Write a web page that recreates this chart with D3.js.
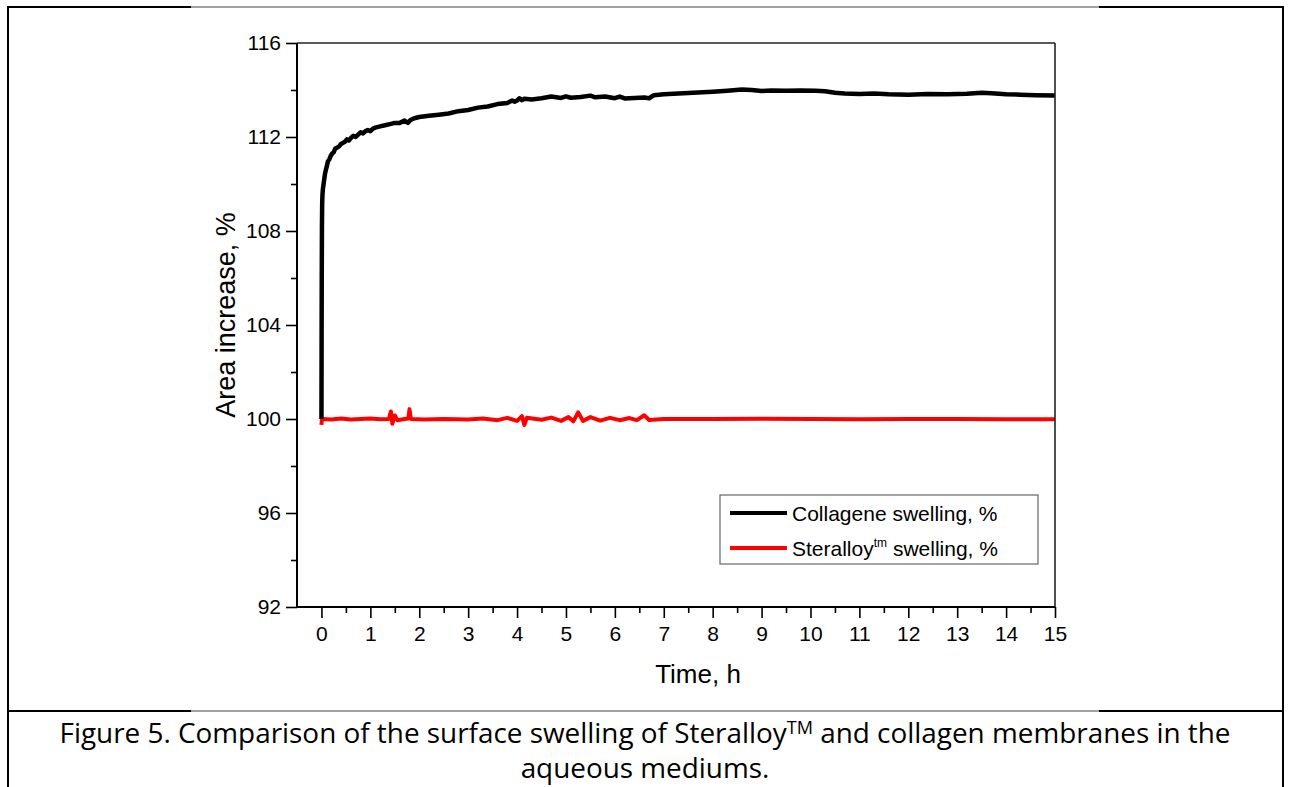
<!DOCTYPE html>
<html>
<head>
<meta charset="utf-8">
<script src="https://cdn.jsdelivr.net/npm/d3@7"></script>
<style>
  body { margin: 0; background: #fff; }
  svg text { font-family: "Liberation Sans", Arial, sans-serif; fill: #000; }
  .caption { font-family: "Open Sans", Lato, sans-serif; }
</style>
</head>
<body>
<div id="chart"></div>
<script>
// Collagene swelling, %
var colTime = [0, 0.003, 0.006, 0.01, 0.015, 0.02, 0.03, 0.05, 0.07, 0.09, 0.11, 0.13, 0.16, 0.19, 0.22, 0.25, 0.28,
  0.32, 0.36, 0.4, 0.44, 0.48, 0.52, 0.56, 0.6, 0.65, 0.7, 0.75, 0.8, 0.85, 0.9, 0.95, 1.0, 1.05, 1.1, 1.2, 1.3,
  1.4, 1.5, 1.6, 1.7, 1.77, 1.82, 1.9, 2.0, 2.2, 2.4, 2.6, 2.8, 3.0, 3.2, 3.4, 3.6, 3.8, 3.9, 3.95, 4.0, 4.05,
  4.1, 4.15, 4.3, 4.5, 4.7, 4.9, 5.0, 5.1, 5.3, 5.5, 5.6, 5.8, 6.0, 6.1, 6.2, 6.4, 6.6, 6.7, 6.8, 7.0, 7.3, 7.6,
  8.0, 8.3, 8.6, 8.8, 9.0, 9.2, 9.5, 9.8, 10.1, 10.3, 10.5, 10.7, 11.0, 11.3, 11.6, 12.0, 12.4, 12.8, 13.2, 13.5,
  13.7, 14.0, 14.3, 14.6, 15.0];
var colArea = [100, 103, 106, 108.2, 109.2, 109.5, 109.8, 110.1, 110.4, 110.6, 110.75, 110.95, 111.05, 111.2, 111.3,
  111.35, 111.5, 111.55, 111.6, 111.7, 111.75, 111.8, 111.9, 111.85, 111.95, 112.05, 112.0, 112.1, 112.2, 112.15,
  112.25, 112.3, 112.25, 112.35, 112.4, 112.45, 112.5, 112.55, 112.6, 112.6, 112.7, 112.6, 112.72, 112.8, 112.85,
  112.9, 112.95, 113.0, 113.1, 113.15, 113.25, 113.3, 113.4, 113.45, 113.55, 113.5, 113.55, 113.65, 113.57, 113.63,
  113.6, 113.65, 113.72, 113.66, 113.73, 113.67, 113.7, 113.76, 113.69, 113.72, 113.65, 113.72, 113.64, 113.66,
  113.68, 113.65, 113.78, 113.82, 113.85, 113.88, 113.93, 113.97, 114.02, 114.0, 113.96, 113.98, 113.97, 113.98,
  113.97, 113.95, 113.88, 113.85, 113.83, 113.85, 113.82, 113.8, 113.83, 113.82, 113.84, 113.88, 113.86, 113.82,
  113.8, 113.78, 113.77];

// Steralloy swelling, %
var stTime = [0, 0.01, 0.2, 0.4, 0.6, 0.8, 1.0, 1.2, 1.38, 1.42, 1.45, 1.5, 1.55, 1.7, 1.78, 1.8, 1.83, 2.1, 2.5,
  3.0, 3.3, 3.6, 3.8, 4.0, 4.1, 4.15, 4.2, 4.5, 4.7, 4.9, 5.05, 5.15, 5.25, 5.35, 5.5, 5.7, 5.9, 6.1, 6.3, 6.45,
  6.6, 6.7, 7.0, 8.0, 9.0, 10.0, 11.0, 12.0, 13.0, 14.0, 15.0];
var stArea = [99.75, 100.0, 99.98, 100.02, 99.98, 100.0, 100.02, 99.99, 100.0, 100.32, 99.8, 100.15, 99.95, 100.0,
  100.02, 100.42, 100.0, 99.98, 100.0, 99.98, 100.02, 99.95, 100.05, 99.92, 100.12, 99.75, 100.05, 99.97, 100.06,
  99.92, 100.08, 99.9, 100.28, 99.92, 100.08, 99.93, 100.05, 99.95, 100.04, 99.95, 100.16, 99.96, 100.0, 100.0,
  100.01, 100.0, 99.99, 100.0, 100.0, 99.99, 99.99];

var xTicks = d3.range(0, 16, 1);
var xMinor = d3.range(0.5, 15, 1);
var yTicks = [92, 96, 100, 104, 108, 112, 116];
var yMinor = [94, 98, 102, 106, 110, 114];

var svgWidth = 1290, svgHeight = 787;
var margin = { top: 43, right: 235, bottom: 180, left: 297 };
var width = 1055 - margin.left;
var height = 607 - margin.top;

var svg = d3.select("#chart").append("svg")
  .attr("width", svgWidth)
  .attr("height", svgHeight);

// page frame (table cell borders)
var frame = svg.append("g");
frame.append("line").attr("x1", 8).attr("x2", 8).attr("y1", 6).attr("y2", 787)
  .attr("stroke", "#000").attr("stroke-width", 2);
frame.append("line").attr("x1", 1283).attr("x2", 1283).attr("y1", 6).attr("y2", 787)
  .attr("stroke", "#000").attr("stroke-width", 2);
[7, 711].forEach(function(yy) {
  frame.append("line").attr("x1", 7).attr("x2", 191).attr("y1", yy).attr("y2", yy)
    .attr("stroke", "#000").attr("stroke-width", 2);
  frame.append("line").attr("x1", 191).attr("x2", 1099).attr("y1", yy).attr("y2", yy)
    .attr("stroke", "#444").attr("stroke-width", 1);
  frame.append("line").attr("x1", 1099).attr("x2", 1284).attr("y1", yy).attr("y2", yy)
    .attr("stroke", "#000").attr("stroke-width", 2);
});

var chartGroup = svg.append("g")
  .attr("transform", `translate(${margin.left}, ${margin.top})`);

var xLinearScale = d3.scaleLinear().domain([-0.5, 15]).range([0, width]);
var yLinearScale = d3.scaleLinear().domain([92, 116]).range([height, 0]);

// x axis
chartGroup.append("g")
  .attr("transform", `translate(0, ${height})`)
  .call(d3.axisBottom(xLinearScale).tickValues(xTicks).tickSize(11).tickPadding(8).tickFormat(d3.format("d")));
chartGroup.append("g")
  .attr("transform", `translate(0, ${height})`)
  .call(d3.axisBottom(xLinearScale).tickValues(xMinor).tickSize(6).tickFormat(""));

// y axis
chartGroup.append("g")
  .call(d3.axisLeft(yLinearScale).tickValues(yTicks).tickSize(11).tickPadding(5).tickFormat(d3.format("d")));
chartGroup.append("g")
  .call(d3.axisLeft(yLinearScale).tickValues(yMinor).tickSize(6).tickFormat(""));

chartGroup.selectAll(".domain").remove();
chartGroup.selectAll(".tick line").attr("stroke", "#000").attr("stroke-width", 1.6);
chartGroup.selectAll(".tick text").attr("font-size", "21px").attr("font-family", "Liberation Sans, Arial, sans-serif");

// lines
var line = d3.line()
  .x(d => xLinearScale(d[0]))
  .y(d => yLinearScale(d[1]));

chartGroup.append("path")
  .datum(d3.zip(stTime, stArea))
  .attr("fill", "none")
  .attr("stroke", "#ff0000")
  .attr("stroke-width", 4)
  .attr("stroke-linejoin", "round")
  .attr("d", line);

chartGroup.append("path")
  .datum(d3.zip(colTime, colArea))
  .attr("fill", "none")
  .attr("stroke", "#000")
  .attr("stroke-width", 4.5)
  .attr("stroke-linejoin", "round")
  .attr("d", line);

// plot frame
chartGroup.append("line").attr("x1", 0).attr("x2", width).attr("y1", 0).attr("y2", 0)
  .attr("stroke", "#222").attr("stroke-width", 1.6);
chartGroup.append("line").attr("x1", width).attr("x2", width).attr("y1", 0).attr("y2", height)
  .attr("stroke", "#222").attr("stroke-width", 1.6);
chartGroup.append("line").attr("x1", 0).attr("x2", 0).attr("y1", 0).attr("y2", height)
  .attr("stroke", "#000").attr("stroke-width", 2);
chartGroup.append("line").attr("x1", 0).attr("x2", width).attr("y1", height).attr("y2", height)
  .attr("stroke", "#000").attr("stroke-width", 2);

// axis titles
chartGroup.append("text")
  .attr("x", 698 - margin.left)
  .attr("y", height + 76)
  .attr("text-anchor", "middle")
  .attr("font-size", "26px")
  .text("Time, h");

chartGroup.append("text")
  .attr("transform", "rotate(-90)")
  .attr("x", -(315 - margin.top))
  .attr("y", -62)
  .attr("text-anchor", "middle")
  .attr("font-size", "27px")
  .text("Area increase, %");

// legend
var legend = chartGroup.append("g")
  .attr("transform", `translate(${720 - margin.left}, ${495 - margin.top})`);
legend.append("rect")
  .attr("width", 318).attr("height", 69)
  .attr("fill", "#fff").attr("stroke", "#666").attr("stroke-width", 1.2);

var legendItems = [
  { color: "#000", label: "Collagene swelling, %", sup: null, rest: null },
  { color: "#ff0000", label: "Steralloy", sup: "tm", rest: " swelling, %" }
];
legendItems.forEach(function(item, i) {
  var cy = 18 + i * 35;
  legend.append("line")
    .attr("x1", 10).attr("x2", 67).attr("y1", cy).attr("y2", cy)
    .attr("stroke", item.color).attr("stroke-width", 4);
  var t = legend.append("text")
    .attr("x", 72).attr("y", cy + 7.5)
    .attr("font-size", "21px");
  t.append("tspan").text(item.label);
  if (item.sup) {
    t.append("tspan").attr("dy", -9).attr("font-size", "12px").text(item.sup);
    t.append("tspan").attr("dy", 9).text(item.rest);
  }
});

// caption
var cap1 = svg.append("text")
  .attr("class", "caption")
  .attr("x", 645).attr("y", 743)
  .attr("text-anchor", "middle")
  .attr("font-size", "24px");
cap1.append("tspan").text("Figure 5. Comparison of the surface swelling of Steralloy");
cap1.append("tspan").attr("dy", -9).attr("font-size", "16px").text("TM");
cap1.append("tspan").attr("dy", 9).text(" and collagen membranes in the");

var cap2 = svg.append("text")
  .attr("class", "caption")
  .attr("x", 645).attr("y", 778)
  .attr("text-anchor", "middle")
  .attr("font-size", "24px")
  .text("aqueous mediums.");

// fit caption width to the reference line width (about 1172 px)
var capScale = 1172 / cap1.node().getComputedTextLength();
var capSize = 24 * capScale;
cap1.attr("font-size", capSize + "px");
cap1.selectAll("tspan").filter((d, i) => i === 1).attr("font-size", (capSize * 0.65) + "px");
cap2.attr("font-size", capSize + "px");
</script>
</body>
</html>
